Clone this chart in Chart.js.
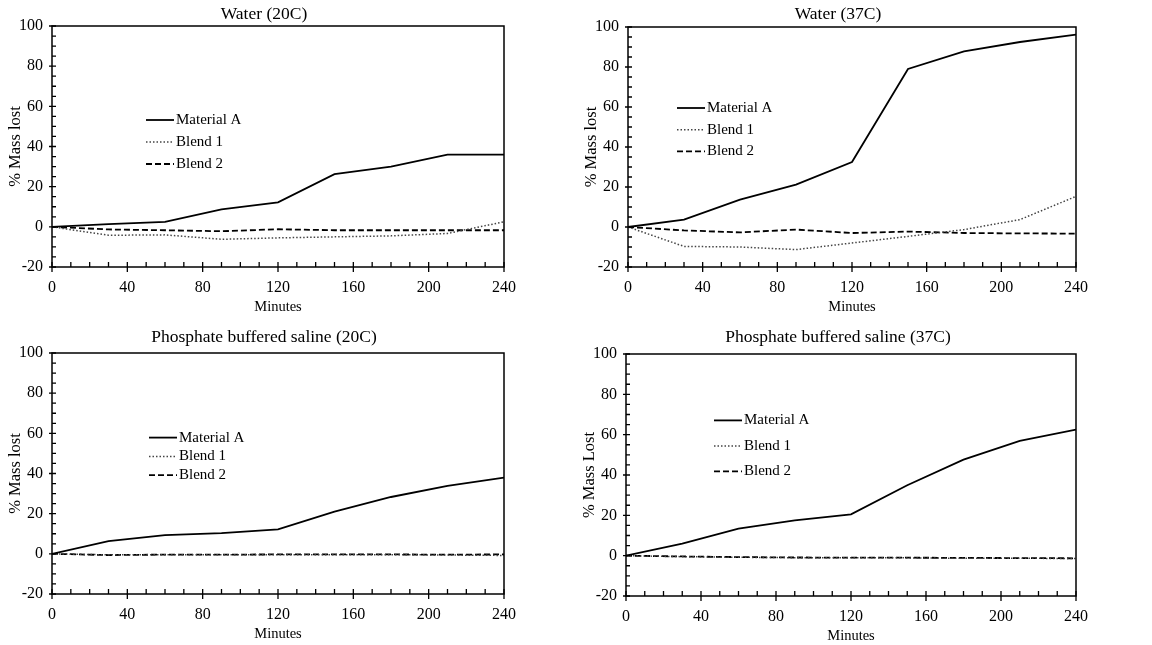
<!DOCTYPE html>
<html>
<head>
<meta charset="utf-8">
<title>Mass lost over time</title>
<script src="https://cdn.jsdelivr.net/npm/chart.js@4.4.1/dist/chart.umd.min.js"></script>
<style>
  body { margin: 0; background: #fff; }
  #page { position: relative; width: 1152px; height: 645px; overflow: hidden; background: #fff; }
  canvas { position: absolute; }
</style>
</head>
<body>
<div id="page">
  <canvas id="water20"></canvas>
  <canvas id="water37"></canvas>
  <canvas id="pbs20"></canvas>
  <canvas id="pbs37"></canvas>
</div>
<script>
// sampling times (minutes)
const minutes = [0, 30, 60, 90, 120, 150, 180, 210, 240];

const seriesNames = ['Material A', 'Blend 1', 'Blend 2'];

// % mass lost, water at 20C
const water20MaterialA = [0, 1.3, 2.5, 8.7, 12.2, 26.2, 30, 36, 36];
const water20Blend1 = [0, -4.2, -4, -6.2, -5.5, -5, -4.5, -3.3, 2.5];
const water20Blend2 = [0, -1.3, -1.7, -2.2, -1.2, -1.7, -1.7, -1.7, -1.7];

// % mass lost, water at 37C
const water37MaterialA = [0, 3.7, 13.7, 21.2, 32.5, 79, 87.8, 92.5, 96.2];
const water37Blend1 = [0, -9.7, -10, -11.3, -8, -4.7, -1.3, 3.7, 15.3];
const water37Blend2 = [0, -1.7, -2.7, -1.3, -3, -2.3, -3, -3.2, -3.3];

// % mass lost, PBS at 20C
const pbs20MaterialA = [0, 6.3, 9.3, 10.3, 12.2, 21, 28.3, 33.8, 38];
const pbs20Blend1 = [0, -0.5, -0.5, -0.4, -0.4, -0.4, -0.4, -0.6, -0.8];
const pbs20Blend2 = [0, -0.6, -0.4, -0.4, -0.3, -0.3, -0.3, -0.4, -0.3];

// % mass lost, PBS at 37C
const pbs37MaterialA = [0, 6, 13.4, 17.5, 20.5, 34.9, 47.6, 56.9, 62.5];
const pbs37Blend1 = [0, -0.5, -0.8, -1, -1, -1.1, -1.3, -1.3, -1.4];
const pbs37Blend2 = [0, -0.4, -0.7, -0.9, -1, -1, -1.1, -1.2, -1.3];

const SERIF = "'Liberation Serif', 'Times New Roman', serif";

const seriesStyles = [
  { borderColor: '#000', borderWidth: 1.8, borderDash: [] },
  { borderColor: '#444', borderWidth: 1.5, borderDash: [1.5, 2] },
  { borderColor: '#000', borderWidth: 1.8, borderDash: [6, 3] }
];

// plot box on the page: [left, top, right, bottom]
const panels = [
  { id: 'water20', title: 'Water (20C)', yTitle: '% Mass lost',
    series: [water20MaterialA, water20Blend1, water20Blend2],
    plot: [52, 26, 507, 267], titleX: 264, titleGap: 12,
    legend: { dx: 94, dy: 94, gap: 22 } },
  { id: 'water37', title: 'Water (37C)', yTitle: '% Mass lost',
    series: [water37MaterialA, water37Blend1, water37Blend2],
    plot: [628, 27, 1079, 267], titleX: 838, titleGap: 13,
    legend: { dx: 49, dy: 81, gap: 21.7 } },
  { id: 'pbs20', title: 'Phosphate buffered saline (20C)', yTitle: '% Mass lost',
    series: [pbs20MaterialA, pbs20Blend1, pbs20Blend2],
    plot: [52, 353, 507, 594], titleX: 264, titleGap: 16,
    legend: { dx: 97, dy: 84.6, gap: 18.8 } },
  { id: 'pbs37', title: 'Phosphate buffered saline (37C)', yTitle: '% Mass Lost',
    series: [pbs37MaterialA, pbs37Blend1, pbs37Blend2],
    plot: [626, 354, 1079, 596], titleX: 838, titleGap: 16.5,
    legend: { dx: 88, dy: 66.4, gap: 25.5 } }
];

const Y_AXIS_W = 46;
const X_AXIS_H = 49;
const TOP_SPACE = 26;
const RIGHT_SPACE = 20;

// frame, tick marks, title and in-plot legend
const axisDecor = {
  id: 'axisDecor',
  afterDatasetsDraw(chart, args, opts) {
    const { ctx, chartArea: a, scales: { x, y } } = chart;
    ctx.save();
    ctx.strokeStyle = '#000';
    ctx.lineWidth = 1.5;
    ctx.strokeRect(a.left, a.top, a.right - a.left, a.bottom - a.top);

    ctx.lineWidth = 1.3;
    ctx.beginPath();
    for (let v = 0; v <= 240; v += 10) {
      const px = x.getPixelForValue(v);
      ctx.moveTo(px, a.bottom - 5);
      ctx.lineTo(px, v % 40 === 0 ? a.bottom + 5 : a.bottom);
    }
    for (let v = -20; v <= 100; v += 5) {
      const py = y.getPixelForValue(v);
      ctx.moveTo(a.left + 4, py);
      ctx.lineTo(v % 20 === 0 ? a.left - 3 : a.left, py);
    }
    ctx.stroke();

    ctx.fillStyle = '#000';
    ctx.font = `17.5px ${SERIF}`;
    ctx.textAlign = 'center';
    ctx.textBaseline = 'middle';
    ctx.fillText(opts.text, opts.titleX, a.top - opts.titleGap);

    ctx.font = `15px ${SERIF}`;
    ctx.textAlign = 'left';
    chart.data.datasets.forEach((ds, i) => {
      const lx = a.left + opts.legend.dx;
      const ly = a.top + opts.legend.dy + i * opts.legend.gap;
      ctx.strokeStyle = ds.borderColor;
      ctx.lineWidth = ds.borderWidth;
      ctx.setLineDash(ds.borderDash);
      ctx.beginPath();
      ctx.moveTo(lx, ly);
      ctx.lineTo(lx + 28, ly);
      ctx.stroke();
      ctx.setLineDash([]);
      ctx.fillText(ds.label, lx + 30, ly);
    });
    ctx.restore();
  }
};

panels.forEach(p => {
  const [left, top, right, bottom] = p.plot;
  const cx = left - Y_AXIS_W;
  const cy = top - TOP_SPACE;
  const canvas = document.getElementById(p.id);
  canvas.width = right - cx + RIGHT_SPACE;
  canvas.height = bottom - cy + X_AXIS_H;
  canvas.style.left = cx + 'px';
  canvas.style.top = cy + 'px';

  new Chart(canvas.getContext('2d'), {
    type: 'line',
    data: {
      datasets: p.series.map((values, i) => ({
        label: seriesNames[i],
        data: minutes.map((m, k) => ({ x: m, y: values[k] })),
        borderColor: seriesStyles[i].borderColor,
        borderWidth: seriesStyles[i].borderWidth,
        borderDash: seriesStyles[i].borderDash,
        pointRadius: 0,
        tension: 0,
        fill: false
      }))
    },
    options: {
      responsive: false,
      animation: false,
      layout: { padding: { top: TOP_SPACE, right: RIGHT_SPACE, left: 0, bottom: 0 } },
      plugins: {
        legend: { display: false },
        title: { display: false },
        tooltip: { enabled: false },
        axisDecor: {
          text: p.title,
          titleX: p.titleX - cx,
          titleGap: p.titleGap,
          legend: p.legend
        }
      },
      scales: {
        x: {
          type: 'linear',
          min: 0,
          max: 240,
          grid: { display: false, drawTicks: false },
          border: { display: false },
          ticks: { stepSize: 40, padding: 11, color: '#000', maxRotation: 0,
                   font: { family: SERIF, size: 16 } },
          title: { display: true, text: 'Minutes', color: '#000', padding: 0,
                   font: { family: SERIF, size: 14.5 } },
          afterFit: s => { s.height = X_AXIS_H; }
        },
        y: {
          min: -20,
          max: 100,
          grid: { display: false, drawTicks: false },
          border: { display: false },
          ticks: { stepSize: 20, padding: 9, color: '#000',
                   font: { family: SERIF, size: 16 } },
          title: { display: true, text: p.yTitle, color: '#000', padding: 0,
                   font: { family: SERIF, size: 16.5 } },
          afterFit: s => { s.width = Y_AXIS_W; }
        }
      }
    },
    plugins: [axisDecor]
  });
});
</script>
</body>
</html>
